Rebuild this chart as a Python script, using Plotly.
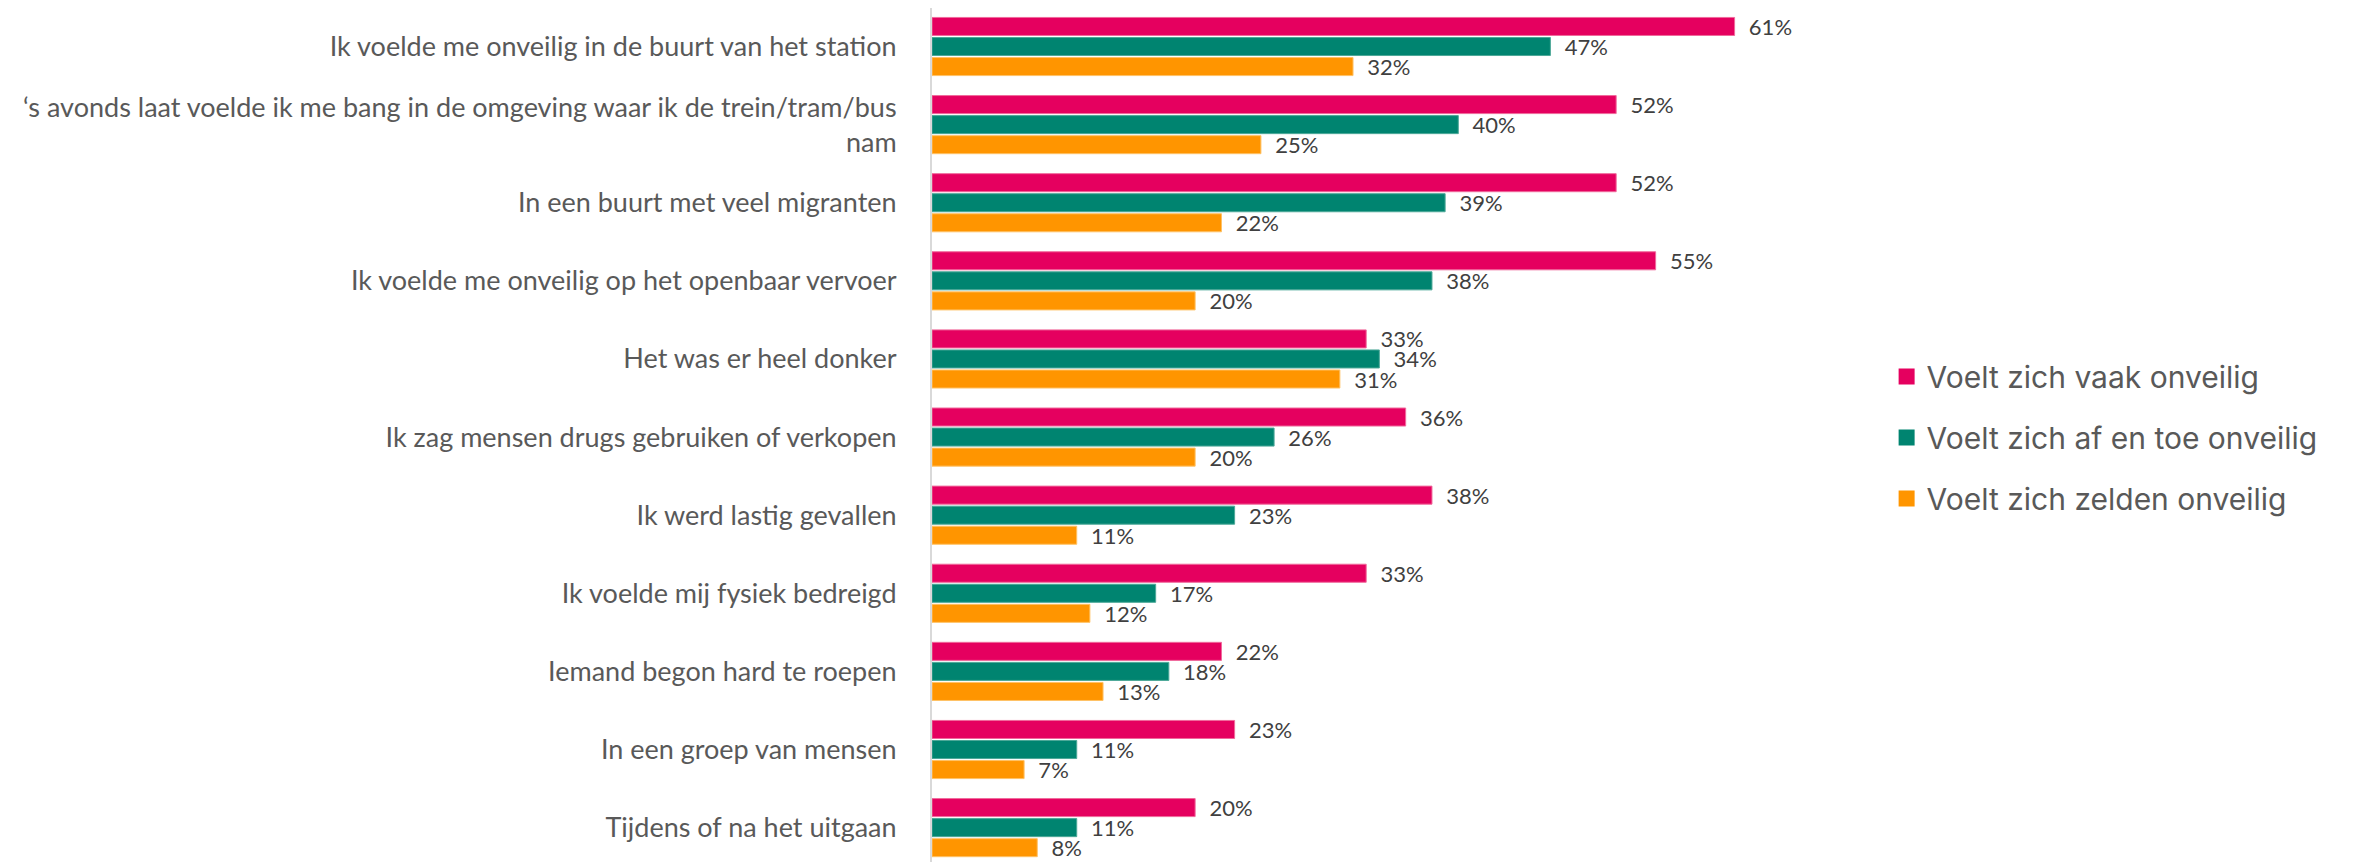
import plotly.graph_objects as go

# Categories (top to bottom)
categories = [
    "Ik voelde me onveilig in de buurt van het station",
    "‘s avonds laat voelde ik me bang in de omgeving waar ik de trein/tram/bus<br>nam",
    "In een buurt met veel migranten",
    "Ik voelde me onveilig op het openbaar vervoer",
    "Het was er heel donker",
    "Ik zag mensen drugs gebruiken of verkopen",
    "Ik werd lastig gevallen",
    "Ik voelde mij fysiek bedreigd",
    "Iemand begon hard te roepen",
    "In een groep van mensen",
    "Tijdens of na het uitgaan",
]

vaak = [61, 52, 52, 55, 33, 36, 38, 33, 22, 23, 20]
af_en_toe = [47, 40, 39, 38, 34, 26, 23, 17, 18, 11, 11]
zelden = [32, 25, 22, 20, 31, 20, 11, 12, 13, 7, 8]

series_names = [
    "Voelt zich vaak onveilig",
    "Voelt zich af en toe onveilig",
    "Voelt zich zelden onveilig",
]
series_values = [vaak, af_en_toe, zelden]
colors = ["#E5005F", "#008470", "#FF9500"]
edge_colors = ["#F06A9C", "#4DA898", "#FFC266"]

fig = go.Figure()

for name, vals, col, edge in zip(series_names, series_values, colors, edge_colors):
    fig.add_trace(go.Bar(
        y=categories,
        x=vals,
        orientation="h",
        name=name,
        marker=dict(color=col, line=dict(color=edge, width=1)),
        text=[f"  {v}%" for v in vals],
        textposition="outside",
        constraintext="none",
        cliponaxis=False,
        textfont=dict(family="Lato, Roboto, sans-serif", size=22, color="#404040"),
        showlegend=False,
        hoverinfo="x+y",
    ))

# legend entries with square markers, each in its own group for spacing
for i, (name, col) in enumerate(zip(series_names, colors)):
    fig.add_trace(go.Scatter(
        x=[None], y=[None], mode="markers", name=name,
        marker=dict(symbol="square", size=16, color=col),
        legendgroup=f"g{i}",
        showlegend=True,
    ))

# page body has an 8px margin, so the figure is a bit smaller than the window
fig.update_layout(
    width=2345,
    height=854,
    barmode="group",
    bargap=0.23,
    bargroupgap=0.1,
    plot_bgcolor="white",
    paper_bgcolor="white",
    margin=dict(l=924, r=500, t=0, b=0, autoexpand=False),
    font=dict(family="Lato, Roboto, sans-serif", color="#595959"),
    legend=dict(
        x=1.0365, y=0.497, xanchor="left", yanchor="middle",
        font=dict(family="Inter, Roboto, sans-serif", size=30, color="#595959"),
        tracegroupgap=19,
        itemwidth=30,
        traceorder="grouped",
    ),
    showlegend=True,
)

fig.update_xaxes(
    range=[0, 70],
    showgrid=False,
    zeroline=False,
    showticklabels=False,
    showline=False,
    automargin=False,
)

fig.update_yaxes(
    type="category",
    categoryorder="array",
    categoryarray=categories,
    range=[10.44, -0.493],
    showgrid=False,
    showline=True,
    linecolor="#D9D9D9",
    linewidth=2,
    ticks="",
    ticklabelstandoff=28,
    automargin=False,
    tickfont=dict(family="Lato, Roboto, sans-serif", size=27, color="#595959"),
)

fig.write_html("out.html")
